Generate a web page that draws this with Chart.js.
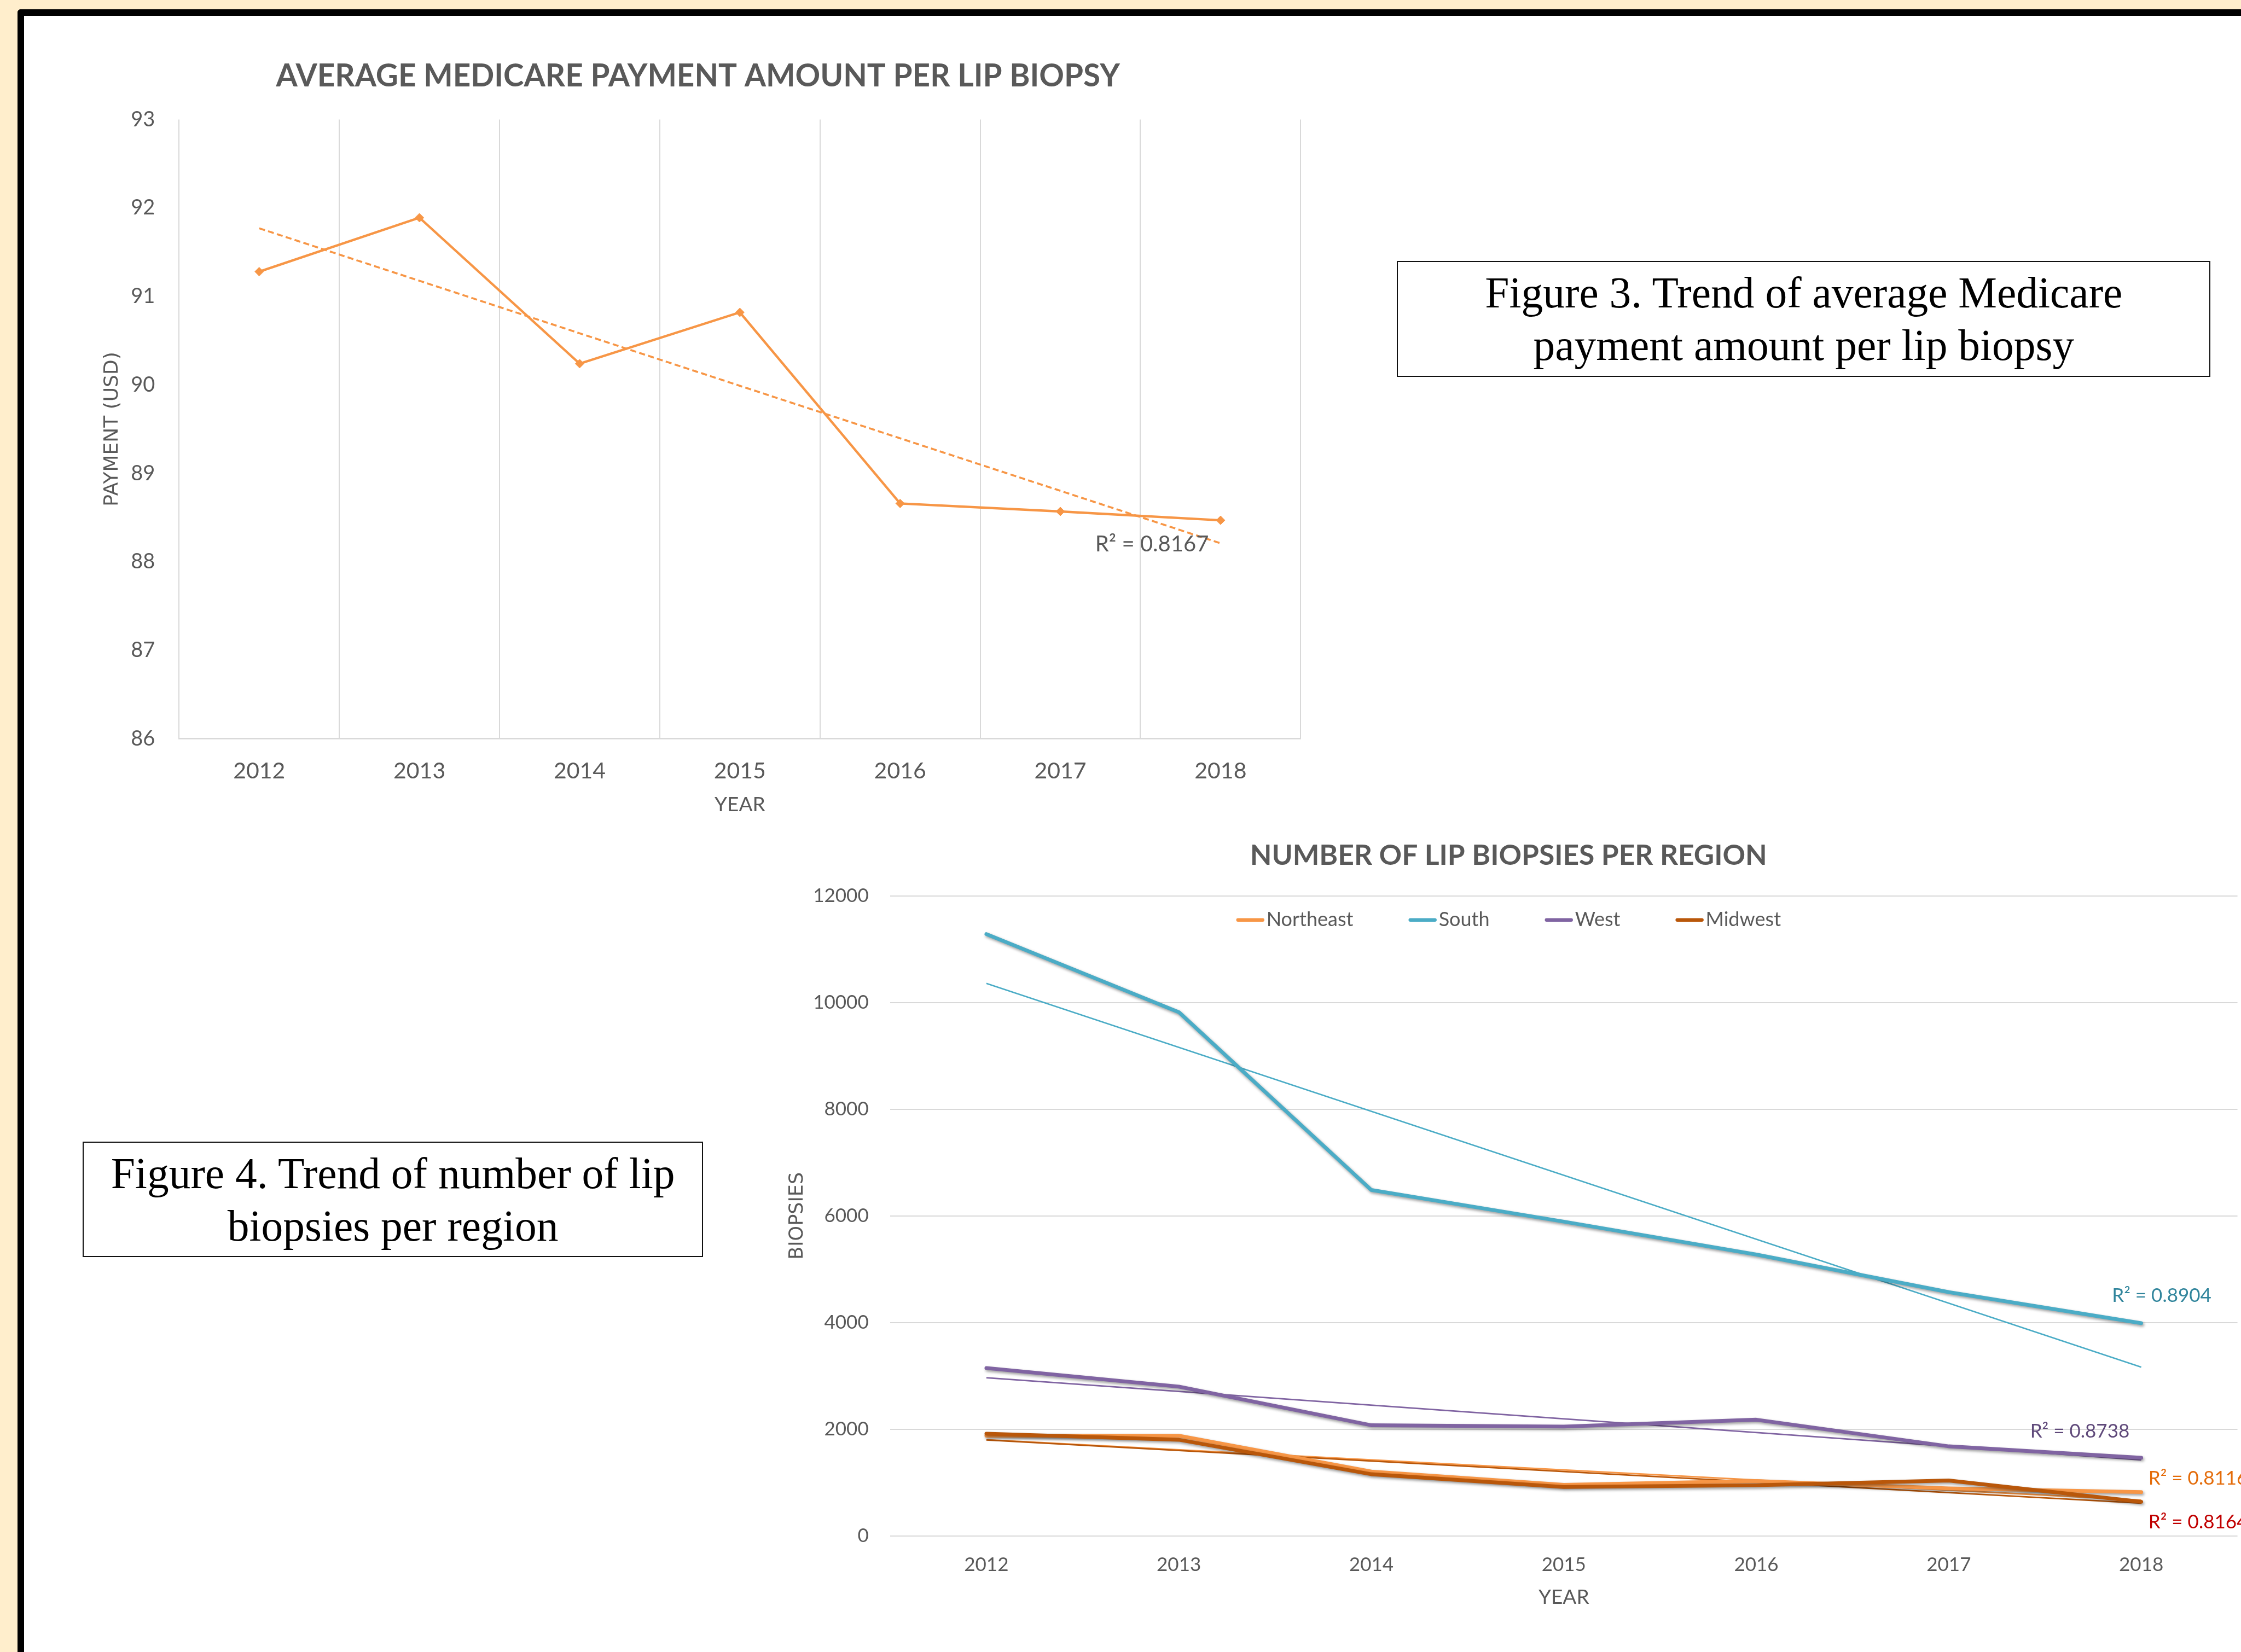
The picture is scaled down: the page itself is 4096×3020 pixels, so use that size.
<!DOCTYPE html>
<html>
<head>
<meta charset="utf-8">
<title>Lip biopsy trends</title>
<script src="https://cdn.jsdelivr.net/npm/chart.js@4.4.1/dist/chart.umd.min.js"></script>
<style>
  html, body { margin: 0; padding: 0; }
  body { width: 4096px; height: 3020px; overflow: hidden; background: #FFEECC; position: relative; }
  #panel { position: absolute; background: #fff; border-left: 12px solid #000; border-top: 12px solid #000; border-top-left-radius: 6px; }
  canvas { position: absolute; }
  .caption { position: absolute; box-sizing: border-box; border: 2.5px solid #111; background: #fff;
             text-align: center; font-family: "Liberation Serif", "Times New Roman", serif; color: #000; }
</style>
</head>
<body>
<div id="panel"></div>
<canvas id="paymentChart"></canvas>
<div class="caption" id="cap3">Figure 3. Trend of average Medicare<br>payment amount per lip biopsy</div>
<canvas id="regionChart"></canvas>
<div class="caption" id="cap4">Figure 4. Trend of number of lip<br>biopsies per region</div>

<script>
// ---- data ----
const years = ['2012', '2013', '2014', '2015', '2016', '2017', '2018'];

const payment = [91.28, 91.89, 90.24, 90.82, 88.66, 88.57, 88.47];
const paymentTrend = [91.77, null, null, null, null, null, 88.21];

const regionNames = ['Northeast', 'South', 'West', 'Midwest'];
const northeast = [1880, 1879, 1208, 959, 1029, 891, 822];
const south = [11285, 9820, 6486, 5893, 5277, 4572, 3990];
const west = [3147, 2800, 2075, 2050, 2180, 1680, 1465];
const midwest = [1918, 1803, 1157, 918, 950, 1039, 640];

const northeastTrend = [1805, null, null, null, null, null, 670];
const southTrend = [10360, null, null, null, null, null, 3165];
const westTrend = [2965, null, null, null, null, null, 1425];
const midwestTrend = [1800, null, null, null, null, null, 615];

const paymentTicks = [86, 93, 1];
const biopsyTicks = [0, 12000, 2000];

const r2Payment = 'R\u00B2 = 0.8167';
const r2Region = ['R\u00B2 = 0.8116', 'R\u00B2 = 0.8904', 'R\u00B2 = 0.8738', 'R\u00B2 = 0.8164'];

// ---- look ----
const S = 0.935;               // reference -> window scale
const GREY = '#595959';
const GRID = '#D9D9D9';
const ORANGE = '#F79646';
const regionColors = ['#F79646', '#4BACC6', '#8064A2', '#B9570A'];
const r2Colors = ['#E46C0A', '#31859C', '#5F497A', '#C00000'];

Chart.defaults.font.family = 'Lato, "Open Sans", sans-serif';
Chart.defaults.color = GREY;

function place(el, x, y, w, h) {
  el.style.left = (x * S) + 'px';
  el.style.top = (y * S) + 'px';
  if (w != null) el.style.width = (w * S) + 'px';
  if (h != null) el.style.height = (h * S) + 'px';
}

function sizeCanvas(cv, x, y, w, h) {
  cv.width = Math.round(w * S);
  cv.height = Math.round(h * S);
  cv.style.left = (x * S) + 'px';
  cv.style.top = (y * S) + 'px';
}

place(document.getElementById('panel'), 34, 18, 4600, 3400);

const cap3 = document.getElementById('cap3');
place(cap3, 2731, 510, 1590, 227);
const cap4 = document.getElementById('cap4');
place(cap4, 162, 2232, 1212, 226);
[cap3, cap4].forEach(c => {
  c.style.fontSize = (85 * S) + 'px';
  c.style.lineHeight = (102 * S) + 'px';
  c.style.paddingTop = (10 * S) + 'px';
});

// text labels placed next to the last category
function r2Plugin(labels, fontSize) {
  return {
    id: 'r2labels',
    afterDatasetsDraw(chart) {
      const { ctx, scales: { x, y } } = chart;
      ctx.save();
      ctx.font = fontSize + 'px Lato';
      ctx.textBaseline = 'middle';
      labels.forEach(l => {
        ctx.fillStyle = l.color;
        ctx.textAlign = l.align;
        ctx.fillText(l.text, x.getPixelForValue(l.index) + l.dx, y.getPixelForValue(l.value));
      });
      ctx.restore();
    }
  };
}

// legend drawn inside the plot, under the title, like the Excel one
function insideLegendPlugin(names, colors) {
  return {
    id: 'insideLegend',
    afterDatasetsDraw(chart) {
      const ctx = chart.ctx;
      const lineLen = 55 * S, lw = 6.5, gap = 4 * S, itemGap = 108 * S;
      ctx.save();
      ctx.font = '36px Lato';
      ctx.textBaseline = 'middle';
      ctx.textAlign = 'left';
      const widths = names.map(n => lineLen + gap + ctx.measureText(n).width);
      const total = widths.reduce((a, b) => a + b, 0) + itemGap * (names.length - 1);
      const tb = chart.titleBlock;
      let x = (tb.left + tb.right) / 2 - total / 2;
      const y = chart.chartArea.top + 47 * S;
      names.forEach((n, i) => {
        ctx.strokeStyle = colors[i];
        ctx.lineWidth = lw;
        ctx.lineCap = 'round';
        ctx.beginPath();
        ctx.moveTo(x + lw / 2, y);
        ctx.lineTo(x + lineLen - lw / 2, y);
        ctx.stroke();
        ctx.fillStyle = GREY;
        ctx.fillText(n, x + lineLen + gap, y);
        x += widths[i] + itemGap;
      });
      ctx.restore();
    }
  };
}

// soft drop shadow under the main region lines
const shadowPlugin = {
  id: 'lineShadow',
  beforeDatasetDraw(chart, args) {
    if (!chart.data.datasets[args.index].shadow) return;
    const ctx = chart.ctx;
    ctx.save();
    ctx.shadowColor = 'rgba(0,0,0,0.4)';
    ctx.shadowBlur = 6 * S;
    ctx.shadowOffsetX = 2 * S;
    ctx.shadowOffsetY = 3 * S;
  },
  afterDatasetDraw(chart, args) {
    if (!chart.data.datasets[args.index].shadow) return;
    chart.ctx.restore();
  }
};

const plainNumber = v => String(v);

// ---------- Figure 3 ----------
// canvas from x=186 so that the full-width title centres on 1364 (reference px)
const cv1 = document.getElementById('paymentChart');
sizeCanvas(cv1, 186, 40, 2422, 1600);

new Chart(cv1, {
  type: 'line',
  data: {
    labels: years,
    datasets: [
      {
        label: 'Payment',
        data: payment,
        borderColor: ORANGE,
        backgroundColor: ORANGE,
        borderWidth: 4.4,
        pointStyle: 'rectRot',
        pointRadius: 8,
        pointBorderWidth: 1,
        tension: 0
      },
      {
        label: 'Linear (Payment)',
        data: paymentTrend,
        spanGaps: true,
        borderColor: ORANGE,
        borderWidth: 3.6,
        borderDash: [11, 6],
        pointRadius: 0,
        tension: 0
      }
    ]
  },
  options: {
    responsive: false,
    animation: false,
    layout: { padding: { left: 0, right: 66 * S, top: 0, bottom: 0 } },
    plugins: {
      legend: { display: false },
      tooltip: { enabled: false },
      title: {
        display: true,
        text: 'AVERAGE MEDICARE PAYMENT AMOUNT PER LIP BIOPSY',
        color: GREY,
        font: { size: 56.6, weight: 'bold' },
        padding: { top: 110 * S - 0.6 * 56.6, bottom: 84 * S - 0.6 * 56.6 }
      }
    },
    scales: {
      x: {
        offset: true,
        grid: { offset: true, color: GRID, lineWidth: 2, drawTicks: false },
        border: { display: true, color: GRID, width: 2.5 },
        ticks: { color: GREY, font: { size: 41 }, padding: 63 * S - 0.6 * 41 },
        title: {
          display: true, text: 'YEAR', color: GREY,
          font: { size: 37 },
          padding: { top: 0, bottom: 66 * S - 0.6 * 37 }
        },
        afterFit(s) { s.height = 195 * S; }
      },
      y: {
        min: paymentTicks[0],
        max: paymentTicks[1],
        ticks: { stepSize: paymentTicks[2], color: GREY, font: { size: 38 }, padding: 47 * S, callback: plainNumber },
        grid: { display: false, drawTicks: false },
        border: { display: false },
        title: {
          display: true, text: 'PAYMENT (USD)', color: GREY,
          font: { family: '"DejaVu Sans", sans-serif', size: 36 },
          padding: { top: 34 * S - 0.6 * 36, bottom: 0 }
        },
        afterFit(s) { s.width = 164 * S; }
      }
    }
  },
  plugins: [r2Plugin([
    { text: r2Payment, color: GREY, index: 6, value: 88.2, dx: -134 * S, align: 'center' }
  ], 40)]
});

// ---------- Figure 4 ----------
// canvas spans 1524..4398 (reference px) with 24 px right padding:
// plot right edge at 4374, title centred on 2949, labels run to the window edge
const cv2 = document.getElementById('regionChart');
sizeCanvas(cv2, 1524, 1580, 2874, 1620);

const seriesData = [northeast, south, west, midwest];
const trendData = [northeastTrend, southTrend, westTrend, midwestTrend];
const drawOrder = [3, 2, 1, 0];   // Midwest ends up on top, as in Excel

const regionSets = seriesData.map((d, i) => ({
  label: regionNames[i],
  data: d,
  borderColor: regionColors[i],
  backgroundColor: regionColors[i],
  borderWidth: 6.8,
  borderJoinStyle: 'round',
  borderCapStyle: 'round',
  pointRadius: 0,
  tension: 0,
  order: drawOrder[i],
  shadow: true
}));
const trendSets = trendData.map((d, i) => ({
  label: 'Linear (' + regionNames[i] + ')',
  data: d,
  spanGaps: true,
  borderColor: regionColors[i],
  borderWidth: 2.8,
  pointRadius: 0,
  tension: 0,
  order: 10 + drawOrder[i]
}));

new Chart(cv2, {
  type: 'line',
  data: { labels: years, datasets: regionSets.concat(trendSets) },
  options: {
    responsive: false,
    animation: false,
    layout: { padding: { left: 0, right: 24 * S, top: 0, bottom: 0 } },
    plugins: {
      legend: { display: false },
      tooltip: { enabled: false },
      title: {
        display: true,
        text: 'NUMBER OF LIP BIOPSIES PER REGION',
        color: GREY,
        font: { size: 51.5, weight: 'bold' },
        padding: { top: 93 * S - 0.6 * 51.5, bottom: 79 * S - 0.6 * 51.5 }
      }
    },
    scales: {
      x: {
        offset: true,
        grid: { display: false, drawTicks: false },
        border: { display: false },
        ticks: { color: GREY, font: { size: 35 }, padding: 57 * S - 0.6 * 35 },
        title: {
          display: true, text: 'YEAR', color: GREY,
          font: { size: 37 },
          padding: { top: 0, bottom: 77 * S - 0.6 * 37 }
        },
        afterFit(s) { s.height = 197 * S; }
      },
      y: {
        min: biopsyTicks[0],
        max: biopsyTicks[1],
        ticks: { stepSize: biopsyTicks[2], color: GREY, font: { size: 35 }, padding: 42 * S, callback: plainNumber },
        grid: { color: GRID, lineWidth: 2, drawTicks: false },
        border: { display: false },
        title: {
          display: true, text: 'BIOPSIES', color: GREY,
          font: { family: '"DejaVu Sans", sans-serif', size: 35 },
          padding: { top: 35 * S - 0.6 * 35, bottom: 0 }
        },
        afterFit(s) { s.width = 216 * S; }
      }
    }
  },
  plugins: [
    shadowPlugin,
    insideLegendPlugin(regionNames, regionColors),
    r2Plugin([
      { text: r2Region[1], color: r2Colors[1], index: 6, value: 4500, dx: 40 * S, align: 'center' },
      { text: r2Region[2], color: r2Colors[2], index: 6, value: 1957, dx: -120 * S, align: 'center' },
      { text: r2Region[0], color: r2Colors[0], index: 6, value: 1074, dx: 14 * S, align: 'left' },
      { text: r2Region[3], color: r2Colors[3], index: 6, value: 259, dx: 14 * S, align: 'left' }
    ], 35)
  ]
});
</script>
</body>
</html>
